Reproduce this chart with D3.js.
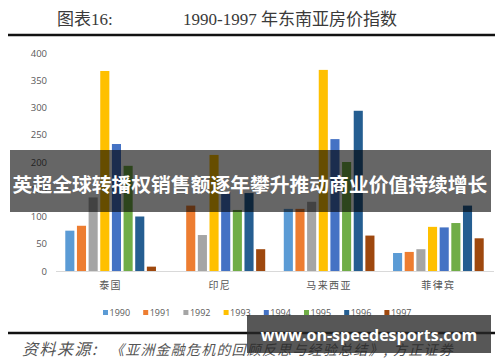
<!DOCTYPE html>
<html>
<head>
<meta charset="utf-8">
<script src="https://cdn.jsdelivr.net/npm/d3@7"></script>
<style>
  html, body { margin: 0; padding: 0; background: #fff; }
  svg { display: block; }
</style>
</head>
<body>
<script>
  // data
  const categories = ["泰国", "印尼", "马来西亚", "菲律宾"];
  const years = ["1990", "1991", "1992", "1993", "1994", "1995", "1996", "1997"];
  const thailand = [74, 83, 135, 367, 233, 193, 100, 8];
  const indonesia = [null, 120, 66, 213, 145, 112, 143, 40];
  const malaysia = [114, 114, 127, 369, 242, 200, 294, 65];
  const philippines = [33, 35, 40, 81, 80, 88, 120, 60];
  const yTicks = [0, 50, 100, 150, 200, 250, 300, 350, 400];
  const colors = ["#5b9bd5", "#ed7d31", "#a5a5a5", "#ffc000", "#4472c4", "#70ad47", "#255e91", "#9e480e"];

  const seriesByCat = [thailand, indonesia, malaysia, philippines];

  const width = 500, height = 362;
  const svg = d3.select("body").append("svg")
    .attr("width", width)
    .attr("height", height);

  // title
  svg.append("text")
    .attr("x", 57).attr("y", 25)
    .attr("font-family", "Liberation Serif, Noto Sans CJK SC, serif")
    .attr("font-size", 17)
    .attr("fill", "#3a3a3a")
    .text("图表16:");
  svg.append("text")
    .attr("x", 183).attr("y", 25)
    .attr("font-family", "Liberation Serif, Noto Sans CJK SC, serif")
    .attr("font-size", 17)
    .attr("fill", "#3a3a3a")
    .text("1990-1997 年东南亚房价指数");

  svg.append("line")
    .attr("x1", 8).attr("x2", 495)
    .attr("y1", 35).attr("y2", 35)
    .attr("stroke", "#111").attr("stroke-width", 2.5);

  // scales
  const y = d3.scaleLinear().domain([0, 400]).range([271, 53]);
  const x0 = d3.scaleBand().domain(categories).range([56, 493])
    .paddingInner(0.17).paddingOuter(0.085);
  const x1 = d3.scaleBand().domain(years).range([0, x0.bandwidth()])
    .paddingInner(0.22);
  const color = d3.scaleOrdinal().domain(years).range(colors);

  // y axis labels only
  const yAxis = svg.append("g")
    .attr("transform", "translate(47,0)")
    .call(d3.axisLeft(y).tickValues(yTicks).tickSize(0).tickPadding(0));
  yAxis.select(".domain").remove();
  yAxis.selectAll("text")
    .attr("font-family", "Open Sans, Liberation Sans, sans-serif")
    .attr("font-size", 9.5)
    .attr("fill", "#595959");

  // bars
  const groups = svg.append("g").selectAll("g")
    .data(categories)
    .join("g")
    .attr("transform", d => `translate(${x0(d)},0)`);

  groups.selectAll("rect")
    .data((d, i) => years.map((yr, j) => ({ year: yr, value: seriesByCat[i][j] }))
      .filter(e => e.value != null))
    .join("rect")
    .attr("x", d => x1(d.year))
    .attr("width", x1.bandwidth())
    .attr("y", d => y(d.value))
    .attr("height", d => y(0) - y(d.value))
    .attr("fill", d => color(d.year));

  // baseline
  svg.append("line")
    .attr("x1", 56).attr("x2", 494)
    .attr("y1", y(0) + 0.5).attr("y2", y(0) + 0.5)
    .attr("stroke", "#d9d9d9").attr("stroke-width", 1);

  // category labels
  const xAxis = svg.append("g")
    .attr("transform", `translate(0,${y(0)})`)
    .call(d3.axisBottom(x0).tickSize(0).tickPadding(11));
  xAxis.select(".domain").remove();
  xAxis.selectAll("text")
    .attr("font-family", "Noto Sans CJK SC, sans-serif")
    .attr("font-size", 10)
    .attr("letter-spacing", 1.5)
    .attr("fill", "#555");

  // legend
  const legend = svg.append("g").selectAll("g")
    .data(years)
    .join("g")
    .attr("transform", (d, i) => `translate(${103 + i * 40.2},313)`);
  legend.append("rect")
    .attr("x", 0).attr("y", -3)
    .attr("width", 5).attr("height", 5)
    .attr("fill", d => color(d));
  legend.append("text")
    .attr("x", 6.5).attr("y", 3.3)
    .attr("font-family", "Open Sans, Liberation Sans, sans-serif")
    .attr("font-size", 9)
    .attr("fill", "#595959")
    .text(d => d);

  // bottom rule + source
  svg.append("line")
    .attr("x1", 8).attr("x2", 495)
    .attr("y1", 333).attr("y2", 333)
    .attr("stroke", "#111").attr("stroke-width", 2.5);

  const src = svg.append("text")
    .attr("x", 22).attr("y", 355)
    .attr("font-family", "Noto Sans CJK SC, serif")
    .attr("font-style", "italic")
    .attr("fill", "#555");
  src.append("tspan").attr("font-size", 16).attr("letter-spacing", 1.5).text("资料来源:");
  src.append("tspan").attr("x", 110).attr("font-size", 14).attr("letter-spacing", 1.2)
    .text("《亚洲金融危机的回顾反思与经验总结》, 方正证券");

  // overlay banner
  svg.append("rect")
    .attr("x", 10).attr("y", 150)
    .attr("width", 481).attr("height", 62)
    .attr("fill", "rgba(0,0,0,0.6)");
  svg.append("text")
    .attr("x", 250).attr("y", 192)
    .attr("text-anchor", "middle")
    .attr("font-family", "Noto Sans CJK SC, sans-serif")
    .attr("font-weight", "bold")
    .attr("font-size", 19.8)
    .attr("fill", "#fff")
    .text("英超全球转播权销售额逐年攀升推动商业价值持续增长");

  // watermark box
  svg.append("rect")
    .attr("x", 247).attr("y", 315)
    .attr("width", 244).attr("height", 38)
    .attr("fill", "rgba(40,40,40,0.78)");
  svg.append("text")
    .attr("x", 369).attr("y", 341)
    .attr("text-anchor", "middle")
    .attr("font-family", "Open Sans, sans-serif")
    .attr("font-weight", "bold")
    .attr("font-size", 16)
    .attr("fill", "#fff")
    .text("www.on-speedesports.com");
</script>
</body>
</html>
